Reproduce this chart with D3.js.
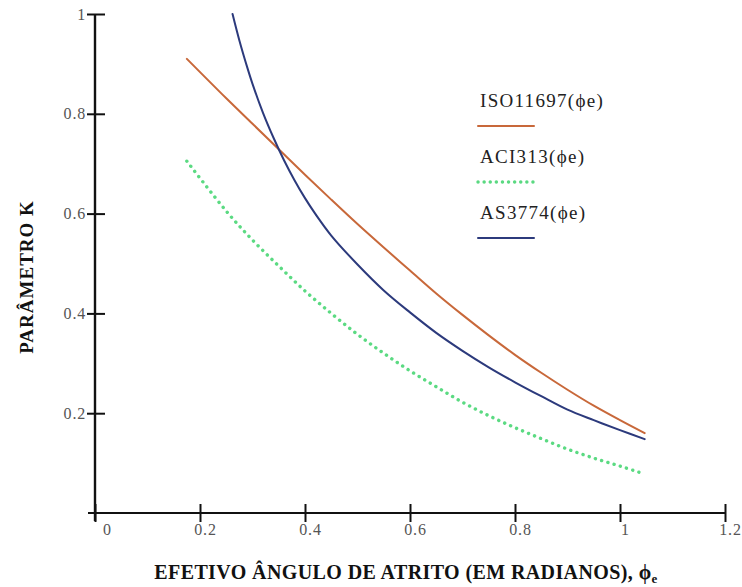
<!DOCTYPE html>
<html>
<head>
<meta charset="utf-8">
<script src="https://cdn.jsdelivr.net/npm/d3@7"></script>
<style>
  html, body { margin: 0; padding: 0; background: #fff; }
  svg { display: block; }
</style>
</head>
<body>
<svg id="chart" width="742" height="587"></svg>
<script>
// ---- data ----
const isoPhi = [0.175, 0.25, 0.30, 0.35, 0.40, 0.45, 0.50, 0.55, 0.60, 0.65, 0.70, 0.75, 0.80, 0.85, 0.90, 0.95, 1.00, 1.047];
const isoK   = [0.910, 0.831, 0.780, 0.729, 0.678, 0.628, 0.579, 0.532, 0.486, 0.440, 0.397, 0.356, 0.317, 0.281, 0.247, 0.215, 0.186, 0.160];

const aciPhi = [0.175, 0.25, 0.30, 0.35, 0.40, 0.45, 0.50, 0.55, 0.60, 0.65, 0.70, 0.75, 0.80, 0.85, 0.90, 0.95, 1.00, 1.047];
const aciK   = [0.705, 0.605, 0.547, 0.495, 0.445, 0.400, 0.358, 0.320, 0.285, 0.253, 0.222, 0.195, 0.171, 0.149, 0.128, 0.110, 0.094, 0.078];

const asPhi = [0.262, 0.275, 0.29, 0.30, 0.32, 0.34, 0.36, 0.38, 0.40, 0.42, 0.45, 0.50, 0.55, 0.60, 0.65, 0.70, 0.75, 0.80, 0.85, 0.90, 0.95, 1.00, 1.047];
const asK   = [1.00, 0.947, 0.893, 0.860, 0.802, 0.752, 0.707, 0.667, 0.631, 0.599, 0.556, 0.498, 0.446, 0.402, 0.361, 0.325, 0.292, 0.262, 0.234, 0.207, 0.186, 0.166, 0.148];

const xTicks = [0, 0.2, 0.4, 0.6, 0.8, 1, 1.2];
const yTicks = [0.2, 0.4, 0.6, 0.8, 1];
const legendLabels = ["ISO11697(\u03D5e)", "ACI313(\u03D5e)", "AS3774(\u03D5e)"];
const yTitle = "PAR\u00C2METRO K";
const xTitle = "EFETIVO \u00C2NGULO DE ATRITO (EM RADIANOS), ";

// ---- chart ----
const svg = d3.select("#chart");
const serif = "Liberation Serif, Times New Roman, serif";

const x = d3.scaleLinear().domain([0, 1.2]).range([95, 725]);
const y = d3.scaleLinear().domain([0, 1]).range([513, 14]);

const series = [
  { name: legendLabels[0], phi: isoPhi, k: isoK, color: "#c8683a", width: 2, dash: null },
  { name: legendLabels[1], phi: aciPhi, k: aciK, color: "#3ed36c", width: 3.4, dash: "0.1 6.4" },
  { name: legendLabels[2], phi: asPhi, k: asK, color: "#2c3a7c", width: 2, dash: null }
];

// axes
const xAxis = svg.append("g").attr("transform", `translate(0,${y(0)})`)
  .call(d3.axisBottom(x).tickValues(xTicks).tickFormat(d3.format("~g")).tickSize(0).tickPadding(11));
xAxis.select(".domain").remove();
xAxis.selectAll(".tick line").attr("y1", -9).attr("y2", 9).attr("stroke", "#111").attr("stroke-width", 2);
xAxis.selectAll(".tick text").attr("font-family", serif).attr("font-size", 16).attr("letter-spacing", 0.8)
  .attr("fill", "#555").attr("dx", d => d === 0 ? 12 : 5);
svg.append("line").attr("x1", 88).attr("x2", x(1.2)).attr("y1", y(0)).attr("y2", y(0))
  .attr("stroke", "#111").attr("stroke-width", 2.2);

const yAxis = svg.append("g").attr("transform", `translate(${x(0)},0)`)
  .call(d3.axisLeft(y).tickValues(yTicks).tickFormat(d3.format("~g")).tickSize(0).tickPadding(9));
yAxis.select(".domain").remove();
yAxis.selectAll(".tick line").attr("x1", -8).attr("x2", 10).attr("stroke", "#111").attr("stroke-width", 2);
yAxis.selectAll(".tick text").attr("font-family", serif).attr("font-size", 16).attr("letter-spacing", 0.8)
  .attr("fill", "#555");
svg.append("line").attr("x1", x(0)).attr("x2", x(0)).attr("y1", y(1)).attr("y2", y(0) + 8)
  .attr("stroke", "#111").attr("stroke-width", 2.4);

// lines
const line = d3.line().curve(d3.curveCatmullRom.alpha(0.5));
series.forEach(s => {
  const pts = s.phi.map((p, i) => [x(p), y(s.k[i])]);
  const path = svg.append("path").attr("d", line(pts))
    .attr("fill", "none").attr("stroke", s.color).attr("stroke-width", s.width)
    .attr("stroke-linecap", "round").attr("stroke-linejoin", "round");
  if (s.dash) path.attr("stroke-dasharray", s.dash).attr("opacity", 0.85);
});

// legend
const legBase = [107, 163, 219];
series.forEach((s, i) => {
  svg.append("text").attr("x", 480).attr("y", legBase[i])
    .attr("font-family", serif).attr("font-size", 19).attr("letter-spacing", 1.3)
    .attr("fill", "#222").text(s.name);
  const l = svg.append("line").attr("x1", 478).attr("x2", 534)
    .attr("y1", legBase[i] + 19).attr("y2", legBase[i] + 19)
    .attr("stroke", s.color).attr("stroke-width", s.width).attr("stroke-linecap", "round");
  if (s.dash) l.attr("stroke-dasharray", "0.1 6").attr("opacity", 0.85);
});

// axis titles
svg.append("text")
  .attr("transform", "translate(33,277) rotate(-90)")
  .attr("text-anchor", "middle")
  .attr("font-family", serif).attr("font-weight", "bold").attr("font-size", 19)
  .attr("letter-spacing", 1)
  .attr("fill", "#111").text(yTitle);

const xt = svg.append("text")
  .attr("x", 406).attr("y", 579)
  .attr("text-anchor", "middle")
  .attr("font-family", serif).attr("font-weight", "bold").attr("font-size", 20)
  .attr("letter-spacing", 0.4)
  .attr("fill", "#111");
xt.append("tspan").text(xTitle);
xt.append("tspan").text("\u03D5");
xt.append("tspan").attr("font-size", 13).attr("dy", 4).text("e");
</script>
</body>
</html>
